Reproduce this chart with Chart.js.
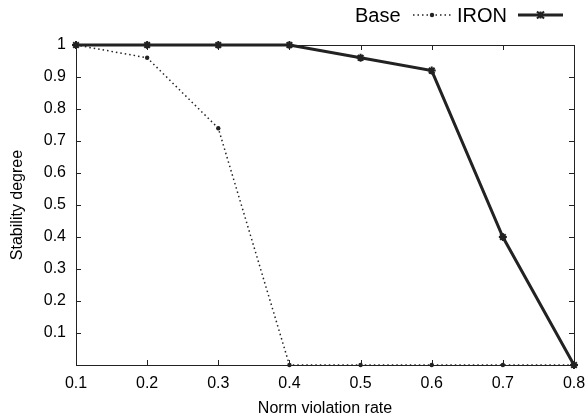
<!DOCTYPE html>
<html lang="en">
<head>
  <meta charset="UTF-8">
  <title>Stability degree vs norm violation rate</title>
  <style>
    html, body {
      margin: 0;
      padding: 0;
      background: #fff;
    }
    #wrap {
      width: 587px;
      height: 418px;
    }
  </style>
</head>
<body>
  <div id="wrap"><canvas id="myChart" width="587" height="418"></canvas></div>

  <script src="https://cdn.jsdelivr.net/npm/chart.js"></script>
  <script>
    const rates = [0.1, 0.2, 0.3, 0.4, 0.5, 0.6, 0.7, 0.8];
    const baseValues = [1, 0.96, 0.74, 0, 0, 0, 0, 0];
    const ironValues = [1, 1, 1, 1, 0.96, 0.92, 0.4, 0];
    const seriesNames = ['Base', 'IRON'];

    const FONT = '"Liberation Sans", Arial, Helvetica, sans-serif';
    const INK = '#222';

    function toPoints(values) {
      return rates.map((x, i) => ({ x: x, y: values[i] }));
    }

    // box round the plot and ticks pointing inward, gnuplot style
    const frame = {
      id: 'frame',
      beforeDatasetsDraw(chart) {
        const { ctx, chartArea: a, scales } = chart;
        const len = 5;
        ctx.save();
        ctx.strokeStyle = INK;
        ctx.lineWidth = 1;
        ctx.strokeRect(a.left + 0.5, a.top + 0.5, a.right - a.left, a.bottom - a.top);
        ctx.beginPath();
        scales.x.ticks.forEach(t => {
          const px = Math.round(scales.x.getPixelForValue(t.value)) + 0.5;
          ctx.moveTo(px, a.bottom); ctx.lineTo(px, a.bottom - len);
          ctx.moveTo(px, a.top); ctx.lineTo(px, a.top + len);
        });
        scales.y.ticks.forEach(t => {
          const py = Math.round(scales.y.getPixelForValue(t.value)) + 0.5;
          ctx.moveTo(a.left, py); ctx.lineTo(a.left + len, py);
          ctx.moveTo(a.right, py); ctx.lineTo(a.right - len, py);
        });
        ctx.stroke();
        ctx.restore();
      }
    };

    // legend in the top right: name first, then a line sample
    const keyLegend = {
      id: 'keyLegend',
      afterDraw(chart) {
        const { ctx } = chart;
        const y = 15;
        const items = [
          { name: seriesNames[0], textX: 355, lineX0: 413, lineX1: 451, ds: chart.data.datasets[0] },
          { name: seriesNames[1], textX: 457, lineX0: 518, lineX1: 563, ds: chart.data.datasets[1] }
        ];
        ctx.save();
        ctx.font = '20px ' + FONT;
        ctx.textBaseline = 'middle';
        items.forEach(it => {
          ctx.fillStyle = '#000';
          ctx.fillText(it.name, it.textX, y + 1);
          ctx.strokeStyle = INK;
          ctx.lineWidth = it.ds.borderWidth;
          ctx.setLineDash(it.ds.borderDash || []);
          ctx.beginPath();
          ctx.moveTo(it.lineX0, y);
          ctx.lineTo(it.lineX1, y);
          ctx.stroke();
          ctx.setLineDash([]);
          const mx = (it.lineX0 + it.lineX1) / 2;
          if (it.ds.pointStyle === 'circle') {
            ctx.fillStyle = INK;
            ctx.beginPath();
            ctx.arc(mx, y, 2.2, 0, Math.PI * 2);
            ctx.fill();
          } else {
            ctx.lineWidth = 2;
            ctx.beginPath();
            const r = 3.5;
            ctx.moveTo(mx - r, y - r); ctx.lineTo(mx + r, y + r);
            ctx.moveTo(mx - r, y + r); ctx.lineTo(mx + r, y - r);
            ctx.moveTo(mx, y - r); ctx.lineTo(mx, y + r);
            ctx.stroke();
          }
        });
        ctx.restore();
      }
    };

    const ctx = document.getElementById('myChart').getContext('2d');
    const myChart = new Chart(ctx, {
      type: 'line',
      data: {
        datasets: [
          {
            label: seriesNames[0],
            data: toPoints(baseValues),
            borderColor: INK,
            backgroundColor: INK,
            borderWidth: 1.5,
            borderDash: [1.5, 3],
            pointStyle: 'circle',
            pointRadius: 2.2,
            pointBorderWidth: 0,
            fill: false,
            tension: 0,
            clip: false
          },
          {
            label: seriesNames[1],
            data: toPoints(ironValues),
            borderColor: INK,
            backgroundColor: INK,
            borderWidth: 3,
            pointStyle: 'star',
            pointRadius: 4,
            pointBorderWidth: 2,
            fill: false,
            tension: 0,
            clip: false
          }
        ]
      },
      options: {
        responsive: false,
        animation: false,
        layout: {
          padding: { top: 45, right: 0, left: 4, bottom: 0 }
        },
        plugins: {
          legend: { display: false },
          tooltip: { enabled: false }
        },
        scales: {
          x: {
            type: 'linear',
            min: 0.1,
            max: 0.8,
            grid: { display: false, drawTicks: false },
            border: { display: false },
            afterFit: s => { s.height = 53; s.paddingRight = 13; s.paddingLeft = 0; },
            ticks: {
              stepSize: 0.1,
              padding: 9,
              color: '#000',
              font: { family: FONT, size: 16 },
              callback: v => v.toFixed(1)
            },
            title: {
              display: true,
              text: 'Norm violation rate',
              color: '#000',
              font: { family: FONT, size: 16 },
              padding: { top: 6, bottom: 0 }
            }
          },
          y: {
            min: 0,
            max: 1,
            grid: { display: false, drawTicks: false },
            border: { display: false },
            afterFit: s => { s.width = 72; },
            ticks: {
              stepSize: 0.1,
              padding: 10,
              color: '#000',
              font: { family: FONT, size: 16 },
              callback: v => (v < 0.05 ? '' : (v > 0.95 ? '1' : v.toFixed(1)))
            },
            title: {
              display: true,
              text: 'Stability degree',
              color: '#000',
              font: { family: FONT, size: 16 },
              padding: { top: 4, bottom: 4 }
            }
          }
        }
      },
      plugins: [frame, keyLegend]
    });
  </script>
</body>
</html>
